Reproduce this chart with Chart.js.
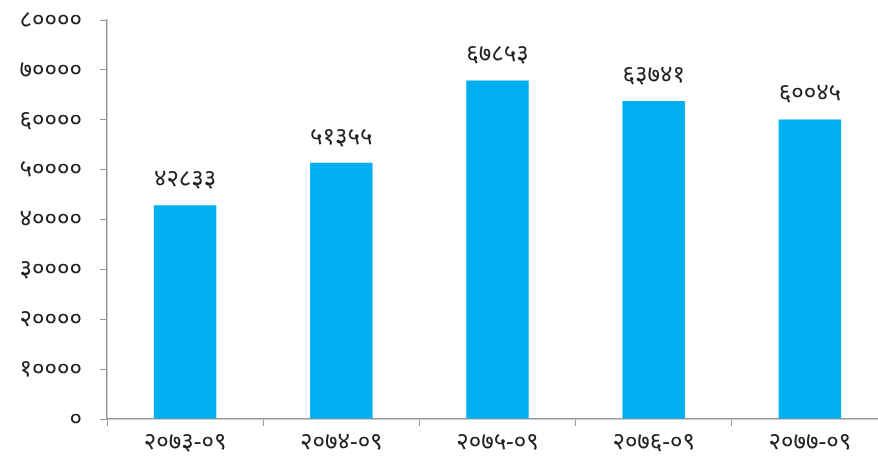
<!DOCTYPE html>
<html>
<head>
<meta charset="utf-8">
<script src="https://cdn.jsdelivr.net/npm/chart.js@4"></script>
<style>
  html, body { margin: 0; padding: 0; overflow: hidden; background: #fff; }
  #wrap { width: 888px; height: 461px; }
</style>
</head>
<body>
<div id="wrap"><canvas id="chart"></canvas></div>
<script>
const categories = ['२०७३-०९', '२०७४-०९', '२०७५-०९', '२०७६-०९', '२०७७-०९'];
const values = [42833, 51355, 67853, 63741, 60045];

const nepDigits = ['०', '१', '२', '३', '४', '५', '६', '७', '८', '९'];
function toNepali(n) {
    return String(n).replace(/[0-9]/g, d => nepDigits[d]);
}

const fontFamily = "'Noto Sans', 'DejaVu Sans', sans-serif";

// values above each bar
const barLabels = {
    id: 'barLabels',
    afterDatasetsDraw(chart) {
        const ctx = chart.ctx;
        const meta = chart.getDatasetMeta(0);
        ctx.save();
        ctx.font = '24px ' + fontFamily;
        ctx.fillStyle = '#222';
        ctx.textAlign = 'center';
        ctx.textBaseline = 'middle';
        meta.data.forEach((bar, i) => {
            ctx.fillText(toNepali(values[i]), bar.x, bar.y - 26);
        });
        ctx.restore();
    }
};

new Chart(document.getElementById('chart'), {
    type: 'bar',
    data: {
        labels: categories,
        datasets: [{
            data: values,
            backgroundColor: '#00B0F0',
            barPercentage: 0.4,
            categoryPercentage: 1.0
        }]
    },
    options: {
        responsive: true,
        maintainAspectRatio: false,
        animation: false,
        layout: { padding: { top: 20, right: 0, left: 0, bottom: 0 } },
        plugins: {
            legend: { display: false },
            tooltip: { enabled: false }
        },
        scales: {
            x: {
                grid: {
                    offset: true,
                    drawOnChartArea: false,
                    tickLength: 7,
                    color: '#999'
                },
                border: { color: '#999', width: 1.5 },
                ticks: {
                    padding: 2,
                    color: '#222',
                    font: { size: 24, family: fontFamily }
                },
                afterFit(scale) { scale.height = 42; }
            },
            y: {
                min: 0,
                max: 80000,
                grid: {
                    drawOnChartArea: false,
                    tickLength: 7,
                    color: '#999'
                },
                border: { color: '#999', width: 1.5 },
                ticks: {
                    stepSize: 10000,
                    padding: 18,
                    color: '#222',
                    font: { size: 24, family: fontFamily },
                    callback: v => toNepali(v)
                },
                afterFit(scale) {
                    scale.width = 107;
                    scale.paddingTop = 0;
                    scale.paddingBottom = 0;
                }
            }
        }
    },
    plugins: [barLabels]
});
</script>
</body>
</html>
